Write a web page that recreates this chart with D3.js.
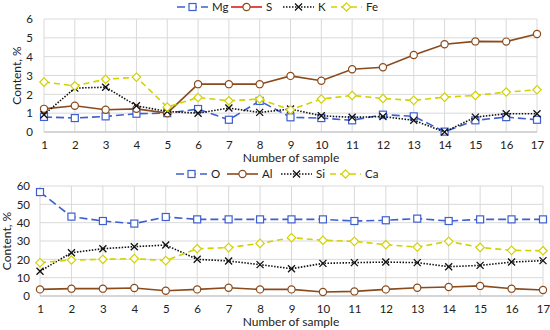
<!DOCTYPE html>
<html>
<head>
<meta charset="utf-8">
<script src="https://cdn.jsdelivr.net/npm/d3@7"></script>
<style>
  body { margin: 0; background: #fff; }
  svg { display: block; font-family: Lato, "Open Sans", sans-serif; }
</style>
</head>
<body>
<svg id="chart" width="550" height="330"></svg>
<script>
// sample numbers (shared by both panels)
var samples = d3.range(1, 18);

// top panel
var mg = [0.8, 0.74, 0.83, 0.97, 1.0, 1.22, 0.65, 1.65, 0.78, 0.74, 0.62, 0.92, 0.83, 0.02, 0.62, 0.79, 0.65];
var s  = [1.23, 1.39, 1.18, 1.23, 1.0, 2.54, 2.54, 2.54, 2.98, 2.72, 3.33, 3.44, 4.09, 4.66, 4.81, 4.8, 5.2];
var k  = [0.92, 2.33, 2.38, 1.39, 1.09, 1.0, 1.27, 1.04, 1.22, 0.86, 0.78, 0.82, 0.62, 0.0, 0.79, 0.97, 0.97];
var fe = [2.65, 2.45, 2.8, 2.91, 1.32, 1.83, 1.66, 1.75, 1.18, 1.75, 1.94, 1.78, 1.68, 1.85, 1.94, 2.12, 2.24];
var topTicks = [0, 1, 2, 3, 4, 5, 6];

// bottom panel
var o  = [56.7, 43.3, 40.9, 39.5, 43.1, 41.8, 41.8, 41.8, 41.8, 41.8, 40.9, 41.3, 42.2, 40.9, 41.8, 41.8, 41.8];
var al = [3.6, 4.0, 4.0, 4.4, 2.9, 3.6, 4.5, 3.6, 3.6, 2.2, 2.5, 3.6, 4.5, 4.9, 5.5, 4.0, 3.3];
var si = [13.5, 23.6, 25.8, 26.9, 27.8, 20.0, 19.1, 17.1, 14.9, 17.8, 18.2, 18.5, 18.2, 16.0, 16.7, 18.5, 19.3];
var ca = [18.2, 19.6, 20.0, 20.4, 19.3, 25.8, 26.4, 28.7, 31.8, 30.4, 29.8, 28.0, 26.7, 29.8, 26.5, 24.9, 24.7];
var bottomTicks = [0, 10, 20, 30, 40, 50, 60];

var blue = "#3d5fcf", brown = "#8a4b1c", red = "#e21a1a", yellow = "#d2d200", black = "#111";

var svg = d3.select("#chart");

function drawPanel(cfg) {
  var g = svg.append("g");
  var x = d3.scalePoint().domain(samples).range([cfg.left, cfg.right]);
  var y = d3.scaleLinear().domain([0, cfg.max]).range([cfg.bottom, cfg.top]);

  // grid
  g.selectAll(".hg").data(cfg.ticks).enter().append("line")
    .attr("x1", cfg.left).attr("x2", cfg.right)
    .attr("y1", function(d) { return y(d); }).attr("y2", function(d) { return y(d); })
    .attr("stroke", "#d9d9d9").attr("stroke-width", 1);
  g.selectAll(".vg").data(samples).enter().append("line")
    .attr("x1", function(d) { return x(d); }).attr("x2", function(d) { return x(d); })
    .attr("y1", cfg.top).attr("y2", cfg.bottom)
    .attr("stroke", "#d9d9d9").attr("stroke-width", 1);

  // axes (labels only, no domain lines)
  var ya = g.append("g").attr("transform", "translate(" + (cfg.left - 4) + ",0)")
    .call(d3.axisLeft(y).tickValues(cfg.ticks).tickFormat(d3.format("d")).tickSize(0).tickPadding(cfg.yPad));
  var xa = g.append("g").attr("transform", "translate(0," + cfg.bottom + ")")
    .call(d3.axisBottom(x).tickSize(0).tickPadding(9));
  [ya, xa].forEach(function(a) {
    a.select(".domain").remove();
    a.selectAll("text").attr("font-family", "Lato, sans-serif").attr("font-size", 11.5).attr("fill", "#222");
  });
  g.append("line").attr("x1", cfg.left).attr("x2", cfg.right)
    .attr("y1", cfg.bottom).attr("y2", cfg.bottom).attr("stroke", "#bfbfbf");

  g.append("text").attr("x", 291).attr("y", cfg.bottom + 30)
    .attr("text-anchor", "middle").attr("font-size", 12).attr("fill", "#222")
    .text("Number of sample");
  g.append("text")
    .attr("transform", "translate(" + cfg.titleX + "," + ((cfg.top + cfg.bottom) / 2) + ") rotate(-90)")
    .attr("text-anchor", "middle").attr("font-size", 12).attr("fill", "#222")
    .text("Content, %");

  var line = d3.line().x(function(d, i) { return x(samples[i]); }).y(function(d) { return y(d); });

  cfg.series.forEach(function(se) {
    g.append("path").datum(se.values)
      .attr("d", line).attr("fill", "none")
      .attr("stroke", se.color).attr("stroke-width", 1.6)
      .attr("stroke-dasharray", se.dash);
    var pts = se.values.map(function(v, i) { return [x(samples[i]), y(v)]; });
    pts.forEach(function(p) { drawMarker(g, se.marker, p[0], p[1], se.color); });
  });

  // legend
  cfg.series.forEach(function(se, i) {
    var lx = cfg.legendX[i], ly = cfg.legendY;
    g.append("line").attr("x1", lx).attr("x2", lx + 31).attr("y1", ly).attr("y2", ly)
      .attr("stroke", se.legendColor || se.color).attr("stroke-width", 1.6)
      .attr("stroke-dasharray", se.dash);
    drawMarker(g, se.marker, lx + 15.5, ly, se.color);
    g.append("text").attr("x", lx + 35).attr("y", ly + 4)
      .attr("font-size", 11.5).attr("fill", "#222").text(se.name);
  });
}

function drawMarker(g, type, cx, cy, color) {
  if (type == "square") {
    g.append("rect").attr("x", cx - 3.5).attr("y", cy - 3.5).attr("width", 7).attr("height", 7)
      .attr("fill", "#fff").attr("stroke", color).attr("stroke-width", 1.2);
  } else if (type == "circle") {
    g.append("circle").attr("cx", cx).attr("cy", cy).attr("r", 3.6)
      .attr("fill", "#fff").attr("stroke", color).attr("stroke-width", 1.2);
  } else if (type == "diamond") {
    g.append("path").attr("d", "M" + cx + "," + (cy - 4.2) + "L" + (cx + 4.2) + "," + cy + "L" + cx + "," + (cy + 4.2) + "L" + (cx - 4.2) + "," + cy + "Z")
      .attr("fill", "#fff").attr("stroke", color).attr("stroke-width", 1.2);
  } else {
    g.append("path").attr("d", "M" + (cx - 3.5) + "," + (cy - 3.5) + "L" + (cx + 3.5) + "," + (cy + 3.5) + "M" + (cx + 3.5) + "," + (cy - 3.5) + "L" + (cx - 3.5) + "," + (cy + 3.5))
      .attr("stroke", color).attr("stroke-width", 1.3);
  }
}

drawPanel({
  left: 44, right: 537, top: 19, bottom: 132, max: 6, ticks: topTicks, titleX: 21, yPad: 7,
  legendY: 7, legendX: [177, 231, 283, 331],
  series: [
    {name: "Mg", values: mg, color: blue, dash: "8,4", marker: "square"},
    {name: "S", values: s, color: brown, legendColor: red, dash: null, marker: "circle"},
    {name: "K", values: k, color: black, dash: "1.5,1.5", marker: "x"},
    {name: "Fe", values: fe, color: yellow, dash: "6,4", marker: "diamond"}
  ]
});

drawPanel({
  left: 40, right: 543, top: 186, bottom: 296, max: 60, ticks: bottomTicks, titleX: 11, yPad: 6,
  legendY: 174, legendX: [176, 227, 281, 330],
  series: [
    {name: "O", values: o, color: blue, dash: "8,4", marker: "square"},
    {name: "Al", values: al, color: brown, dash: null, marker: "circle"},
    {name: "Si", values: si, color: black, dash: "1.5,1.5", marker: "x"},
    {name: "Ca", values: ca, color: yellow, dash: "6,4", marker: "diamond"}
  ]
});
</script>
</body>
</html>
